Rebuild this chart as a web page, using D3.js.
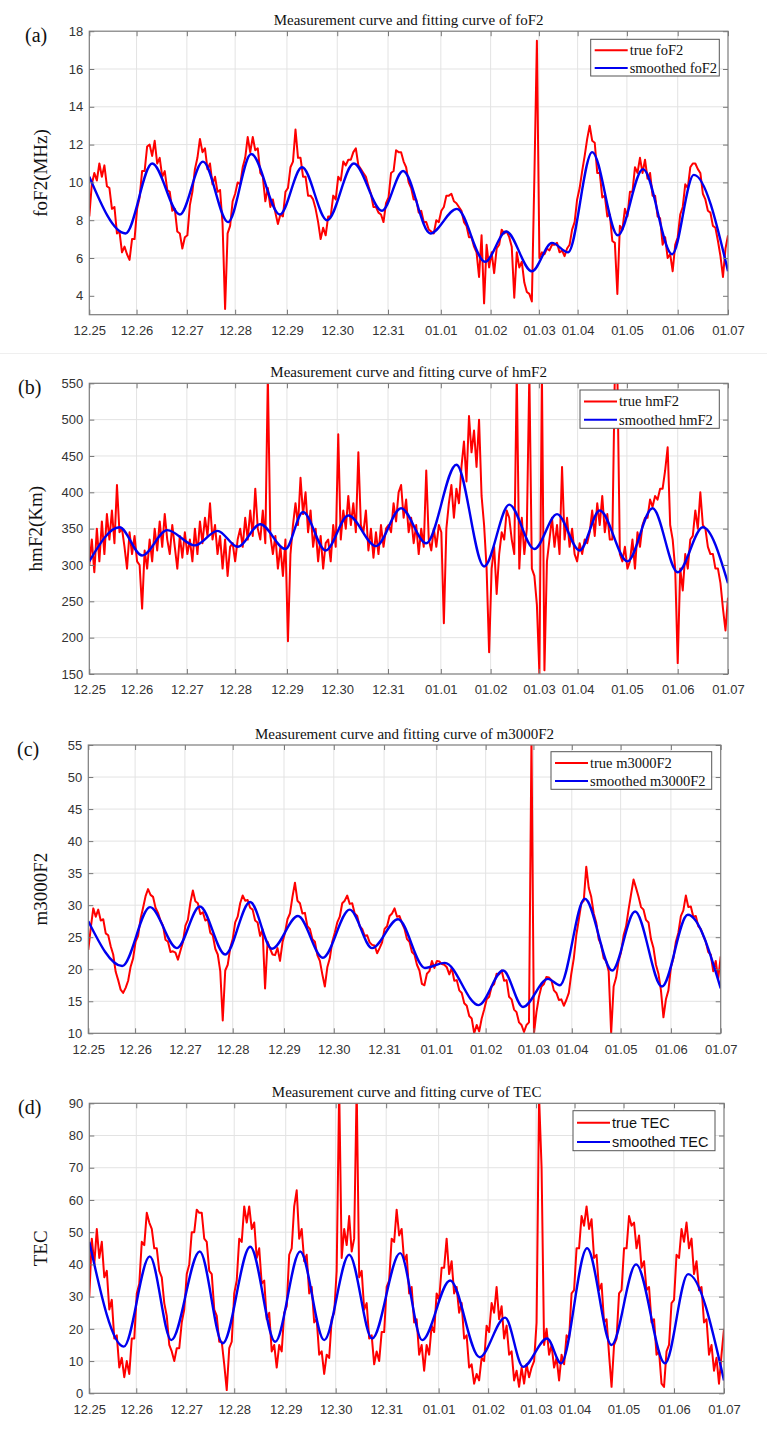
<!DOCTYPE html>
<html lang="en">
<head>
<meta charset="utf-8">
<title>Measurement and fitting curves</title>
<script src="https://cdnjs.cloudflare.com/ajax/libs/d3/7.8.5/d3.min.js"></script>
<style>
  body { margin: 0; background: #fff; }
  .tick text { font-family: "Liberation Sans", Arial, sans-serif; font-size: 13px; fill: #333; }
</style>
</head>
<body>
<div id="fig"></div>
<script>
// x axis: days from 12.25 00:00
var tickDays = [0, 0.94, 1.94, 2.9, 3.93, 4.93, 5.94, 6.99, 7.98, 8.94, 9.71, 10.69, 11.7, 12.7];
var tickLabels = ["12.25", "12.26", "12.27", "12.28", "12.29", "12.30", "12.31",
                  "01.01", "01.02", "01.03", "01.04", "01.05", "01.06", "01.07"];
var step = 0.05; // sampling of the measured series (days)

// (a) foF2
var foF2Ticks = [4, 6, 8, 10, 12, 14, 16, 18];
var foF2True = [
  8.2, 9.9, 10.5, 10.1, 11.0, 10.3, 10.9, 9.8, 9.7, 8.6, 8.7, 7.3, 7.4, 6.3, 6.6, 6.2, 5.9, 7.0, 7.0, 8.6,
  9.2, 10.6, 10.6, 11.9, 12.0, 11.4, 12.2, 11.0, 11.3, 10.3, 10.6, 9.6, 9.5, 8.5, 8.6, 7.4, 7.3, 6.5, 7.1, 7.2,
  8.8, 9.5, 10.7, 11.3, 12.3, 11.6, 11.8, 10.7, 11.0, 9.9, 10.3, 9.5, 9.6, 7.8, 3.3, 7.3, 7.7, 9.0, 9.4, 10.0,
  9.9, 10.8, 11.3, 12.4, 11.6, 12.4, 11.7, 11.8, 10.5, 10.3, 9.0, 9.7, 8.7, 9.1, 8.4, 7.8, 8.3, 8.2, 9.5, 9.7,
  10.8, 11.1, 12.8, 11.3, 11.3, 10.3, 10.3, 9.3, 9.3, 9.1, 8.6, 7.9, 7.0, 7.6, 7.2, 8.2, 8.2, 9.3, 9.1, 10.3,
  10.1, 11.1, 10.9, 11.2, 11.2, 11.6, 11.8, 10.9, 10.7, 10.5, 10.3, 9.8, 9.4, 8.7, 8.7, 8.4, 8.3, 7.9, 8.9, 9.2,
  10.5, 10.6, 11.7, 11.6, 11.6, 11.1, 10.8, 10.0, 9.7, 9.1, 9.1, 8.4, 8.5, 7.9, 7.9, 7.5, 7.4, 7.3, 8.0, 7.9,
  8.5, 8.7, 9.3, 9.3, 9.4, 9.0, 8.9, 8.7, 8.5, 7.9, 7.7, 7.1, 7.1, 6.6, 6.3, 5.0, 7.2, 3.6, 6.7, 5.5,
  6.3, 5.2, 6.5, 6.7, 7.5, 7.3, 7.4, 7.1, 6.6, 3.9, 6.3, 5.5, 5.8, 4.7, 4.2, 4.1, 3.7, 10.3, 17.5, 6.0,
  6.3, 6.2, 6.5, 6.4, 6.7, 6.7, 6.8, 6.3, 6.4, 6.1, 6.5, 6.7, 7.5, 7.9, 9.1, 9.7, 10.6, 11.4, 12.3, 13.0,
  12.2, 12.1, 10.5, 10.5, 9.2, 9.3, 8.2, 8.3, 6.9, 6.8, 4.1, 7.7, 7.5, 8.6, 8.2, 9.5, 9.5, 10.8, 10.5, 11.3,
  10.5, 11.2, 10.2, 10.5, 9.3, 9.3, 8.2, 8.1, 6.7, 7.1, 6.0, 6.2, 5.3, 6.7, 7.1, 8.3, 8.7, 9.9, 9.7, 10.8,
  11.0, 11.0, 10.7, 10.5, 9.4, 9.1, 8.5, 8.4, 7.7, 7.6, 6.9, 6.1, 5.0, 6.5, 7.2
];
var foF2Smooth = [[0, 10.3], [0.72, 7.3], [1.25, 11.0], [1.8, 8.3], [2.26, 11.1], [2.76, 7.9],
  [3.22, 11.5], [3.79, 8.3], [4.23, 10.8], [4.73, 8.0], [5.26, 11.0], [5.82, 8.5], [6.24, 10.6],
  [6.78, 7.3], [7.31, 8.6], [7.87, 5.8], [8.29, 7.4], [8.8, 5.3], [9.2, 6.8], [9.52, 6.3],
  [10.0, 11.6], [10.51, 7.2], [11.01, 10.7], [11.59, 6.2], [12.02, 10.4], [12.7, 5.3]];

// (b) hmF2
var hmF2Ticks = [150, 200, 250, 300, 350, 400, 450, 500, 550];
var hmF2True = [
  300, 335, 290, 350, 305, 360, 315, 370, 335, 375, 330, 410, 345, 350, 325, 295, 345, 315, 340, 305,
  300, 240, 320, 295, 335, 305, 350, 320, 360, 325, 370, 335, 315, 355, 325, 295, 340, 310, 345, 315,
  335, 305, 350, 315, 360, 330, 365, 340, 385, 335, 355, 315, 340, 295, 335, 285, 325, 330, 305, 335,
  350, 325, 365, 335, 375, 340, 405, 350, 335, 375, 330, 560, 340, 315, 340, 295, 325, 285, 335, 195,
  315, 355, 385, 355, 420, 370, 400, 345, 375, 325, 350, 305, 340, 295, 330, 335, 305, 355, 325, 480,
  335, 375, 350, 395, 355, 385, 345, 455, 355, 345, 375, 320, 350, 310, 345, 315, 355, 325, 350, 355,
  345, 385, 360, 400, 410, 365, 390, 345, 365, 330, 355, 315, 350, 325, 430, 335, 320, 350, 325, 355,
  345, 220, 350, 385, 410, 365, 405, 385, 435, 470, 415, 505, 455, 485, 435, 500, 395, 355, 295, 180,
  295, 325, 260, 315, 345, 335, 375, 365, 335, 315, 565, 295, 365, 315, 350, 565, 295, 285, 245, 150,
  565, 155, 305, 335, 365, 325, 355, 315, 435, 335, 365, 325, 350, 315, 305, 330, 315, 335, 330, 345,
  375, 340, 385, 355, 395, 345, 370, 335, 335, 565, 565, 315, 305, 325, 295, 305, 335, 295, 345, 325,
  355, 365, 365, 390, 380, 395, 390, 405, 405, 430, 462, 355, 335, 295, 165, 295, 265, 315, 295, 335,
  340, 375, 350, 400, 355, 350, 325, 315, 315, 295, 295, 275, 240, 210, 255
];
var hmF2Smooth = [[0, 305], [0.6, 352], [1.05, 313], [1.55, 348], [2.1, 327], [2.55, 347], [2.95, 325],
  [3.4, 356], [3.9, 322], [4.25, 373], [4.7, 320], [5.15, 368], [5.7, 326], [6.2, 378], [6.7, 330],
  [7.3, 438], [7.85, 298], [8.35, 383], [8.85, 322], [9.3, 370], [9.75, 320], [10.15, 375],
  [10.7, 305], [11.2, 378], [11.7, 290], [12.2, 352], [12.7, 275]];

// (c) m3000F2
var m3000Ticks = [10, 15, 20, 25, 30, 35, 40, 45, 50, 55];
var m3000True = [
  23, 26.5, 29.5, 28.2, 29.3, 27.6, 27.8, 25.6, 25.3, 23.6, 22.3, 19.6, 18.3, 16.8, 16.3, 17.1, 18.2, 20.4, 21.7, 24.3,
  25.2, 27.9, 29.6, 31.4, 32.5, 31.6, 31.3, 29.6, 28.8, 27.6, 26.8, 24.6, 24.3, 22.7, 22.8, 22.6, 21.5, 22.9, 24.2, 26.8,
  27.7, 30.4, 32.3, 30.6, 30.3, 28.6, 28.9, 27.6, 27.8, 25.7, 25.3, 23.2, 22.3, 19.7, 12, 19.8, 20.7, 23.3, 24.7, 27.3,
  28.2, 30.3, 31.5, 30.7, 30.8, 29.6, 29.3, 27.6, 27.3, 25.2, 26.2, 17, 24.3, 23.2, 22.3, 22.2, 23.3, 21.3, 24.2, 25.7,
  27.8, 28.7, 31.3, 33.5, 30.7, 30.3, 28.7, 28.8, 26.7, 26.3, 24.7, 24.3, 22.2, 21.3, 19.2, 17.3, 20.3, 21.7, 24.3, 25.7,
  27.3, 28.2, 30.3, 30.7, 31.5, 30.2, 30.3, 28.7, 28.3, 26.7, 26.3, 25.2, 25.3, 24.2, 23.8, 23.7, 22.5, 23.3, 24.2, 26.3,
  26.7, 28.3, 28.7, 29.5, 28.2, 28.3, 27.2, 26.3, 24.7, 24.3, 22.7, 22.3, 20.7, 19.8, 17.7, 17.5, 19.3, 19.7, 21.3, 20.2,
  21.3, 21.2, 20.8, 20.7, 20.3, 19.2, 20.2, 18.2, 18.3, 16.7, 16.3, 14.7, 14.3, 12.7, 12.3, 10, 11.3, 10.3, 12.3, 13.7,
  15.3, 15.7, 17.3, 17.7, 19.3, 19.2, 19.8, 18.2, 18.3, 15.7, 15.3, 13.7, 13.3, 11.7, 11.3, 10.2, 11.3, 11.7, 56, 10,
  13.3, 15.7, 17.3, 17.7, 18.8, 18.7, 18.3, 16.7, 16.3, 15.2, 15.3, 14.3, 15.2, 16.3, 19.3, 21.7, 25.3, 27.7, 30.3, 30.7,
  36, 32.7, 31.3, 28.7, 27.3, 24.7, 23.8, 21.7, 21.3, 19.7, 10, 17.3, 18.7, 21.3, 22.7, 25.3, 26.7, 29.3, 31.7, 34,
  32.7, 31.3, 29.7, 29.3, 27.7, 27.3, 24.7, 23.3, 20.7, 19.3, 16.7, 12.5, 15.3, 16.7, 20.3, 21.7, 24.3, 25.7, 28.3, 29.2,
  31.5, 29.7, 29.8, 28.2, 28.3, 26.7, 26.3, 25.2, 24.3, 22.7, 22.3, 19.7, 21.3, 18.5, 22
];
var m3000Smooth = [[0, 27.5], [0.68, 20.5], [1.24, 29.7], [1.78, 23.3], [2.24, 29.8], [2.75, 22.3],
  [3.25, 30.5], [3.69, 23.2], [4.21, 28.3], [4.71, 21.8], [5.25, 29.3], [5.7, 23.3], [6.22, 27.8],
  [6.76, 20.2], [7.16, 21.0], [7.84, 14.4], [8.33, 19.8], [8.73, 14.1], [9.23, 18.5], [9.47, 17.5],
  [9.97, 31.0], [10.52, 19.8], [10.98, 29.0], [11.52, 17.3], [12.04, 28.5], [12.7, 17.0]];

// (d) TEC
var tecTicks = [0, 10, 20, 30, 40, 50, 60, 70, 80, 90];
var tecTrue = [
  30, 48, 40, 51, 42, 47, 36, 38, 26, 29, 17, 18, 8, 11, 5, 10, 6, 17, 17, 31,
  34, 47, 46, 56, 53, 51, 45, 45, 38, 36, 28, 24, 15, 13, 10, 14, 14, 22, 26, 37,
  40, 50, 50, 57, 56, 56, 48, 47, 38, 37, 26, 24, 16, 16, 9, 1, 14, 16, 31, 35,
  48, 47, 58, 53, 58, 51, 53, 42, 45, 34, 35, 23, 25, 13, 15, 8, 15, 13, 25, 27,
  43, 45, 58, 63, 48, 51, 41, 43, 31, 33, 22, 23, 12, 13, 6, 12, 11, 23, 25, 38,
  95, 42, 51, 46, 55, 44, 48, 95, 36, 38, 26, 28, 17, 18, 9, 13, 10, 19, 19, 33,
  35, 48, 47, 57, 49, 51, 41, 43, 31, 33, 22, 23, 12, 15, 7, 15, 12, 21, 19, 31,
  29, 39, 39, 48, 37, 41, 31, 33, 25, 28, 17, 18, 8, 9, 3, 6, 4, 11, 10, 21,
  19, 28, 25, 33, 23, 27, 17, 21, 12, 13, 4, 7, 2, 8, 3, 9, 5, 8, 10, 22,
  92, 70, 15, 20, 12, 15, 8, 11, 4, 12, 9, 18, 17, 31, 32, 45, 45, 55, 52, 58,
  51, 54, 42, 43, 32, 34, 22, 23, 12, 2, 15, 17, 31, 32, 45, 45, 55, 52, 53, 45,
  49, 39, 41, 32, 33, 22, 23, 12, 13, 3, 2, 13, 15, 28, 29, 43, 42, 51, 47, 53,
  45, 48, 37, 41, 32, 33, 22, 23, 12, 15, 7, 11, 3, 12, 20
];
var tecSmooth = [[0, 47], [0.69, 14.5], [1.21, 42.5], [1.64, 16.5], [2.21, 44], [2.67, 15.5],
  [3.22, 45.5], [3.72, 16], [4.22, 44], [4.7, 16.5], [5.2, 43], [5.66, 17], [6.22, 43.5],
  [6.66, 16.5], [7.22, 35], [7.81, 11.2], [8.32, 23.5], [8.68, 8.2], [9.16, 17], [9.44, 9.3],
  [9.96, 45], [10.45, 15], [10.94, 40], [11.52, 9.3], [11.98, 37], [12.7, 4]];

var serif = '"Liberation Serif", "Times New Roman", serif';
var sans = '"Liberation Sans", Arial, sans-serif';

var panels = [
  {tag: "(a)", tagX: 25, title: "foF2", ylabel: "foF2(MHz)", ylabelX: 40,
   left: 89.3, right: 728, top: 31.2, bottom: 314.7, yDomain: [3, 18], yTicks: foF2Ticks,
   trueVals: foF2True, smooth: foF2Smooth, legend: [590.7, 39.3, 128.6, 36.7], legendFont: serif},
  {tag: "(b)", tagX: 18, title: "hmF2", ylabel: "hmF2(Km)", ylabelX: 35,
   left: 89.3, right: 728, top: 383.3, bottom: 674, yDomain: [150, 550], yTicks: hmF2Ticks,
   trueVals: hmF2True, smooth: hmF2Smooth, legend: [580, 390, 139.3, 38.3], legendFont: serif},
  {tag: "(c)", tagX: 17, title: "m3000F2", ylabel: "m3000F2", ylabelX: 40,
   left: 88.3, right: 720.7, top: 745, bottom: 1033.3, yDomain: [10, 55], yTicks: m3000Ticks,
   trueVals: m3000True, smooth: m3000Smooth, legend: [551, 751.7, 160.7, 37.6], legendFont: serif},
  {tag: "(d)", tagX: 18, title: "TEC", ylabel: "TEC", ylabelX: 40,
   left: 89.3, right: 724, top: 1103.3, bottom: 1393.3, yDomain: [0, 90], yTicks: tecTicks,
   trueVals: tecTrue, smooth: tecSmooth, legend: [573, 1110.7, 142, 40], legendFont: sans}
];

var svg = d3.select("#fig").append("svg")
  .attr("width", 767)
  .attr("height", 1432)
  .style("display", "block");

// faint strip edge under the first figure
svg.append("line").attr("x1", 0).attr("x2", 767).attr("y1", 353.5).attr("y2", 353.5)
  .attr("stroke", "#efefef");

panels.forEach(function(p, k) {
  var x = d3.scaleLinear().domain([0, 12.7]).range([p.left, p.right]);
  var y = d3.scaleLinear().domain(p.yDomain).range([p.bottom, p.top]);
  var g = svg.append("g");

  // grid
  g.append("g").selectAll("line").data(tickDays.slice(1, -1)).enter().append("line")
    .attr("x1", d => x(d)).attr("x2", d => x(d))
    .attr("y1", p.top).attr("y2", p.bottom)
    .attr("stroke", "#e3e3e3");
  g.append("g").selectAll("line").data(p.yTicks.slice(1, -1)).enter().append("line")
    .attr("y1", d => y(d)).attr("y2", d => y(d))
    .attr("x1", p.left).attr("x2", p.right)
    .attr("stroke", "#e3e3e3");

  // clip
  svg.append("clipPath").attr("id", "clip" + k).append("rect")
    .attr("x", p.left).attr("y", p.top)
    .attr("width", p.right - p.left).attr("height", p.bottom - p.top);

  var lineTrue = d3.line()
    .x((d, i) => x(i * step))
    .y(d => y(d));
  var lineSmooth = d3.line()
    .x(d => x(d[0]))
    .y(d => y(d[1]))
    .curve(d3.curveMonotoneX);

  g.append("path").datum(p.trueVals)
    .attr("clip-path", "url(#clip" + k + ")")
    .attr("d", lineTrue)
    .attr("fill", "none").attr("stroke", "#ff0000")
    .attr("stroke-width", 2).attr("stroke-linejoin", "round");
  g.append("path").datum(p.smooth)
    .attr("clip-path", "url(#clip" + k + ")")
    .attr("d", lineSmooth)
    .attr("fill", "none").attr("stroke", "#0000f0")
    .attr("stroke-width", 2.4);

  // axes, ticks pointing inwards on all four sides
  var xb = g.append("g").attr("transform", "translate(0," + p.bottom + ")")
    .call(d3.axisBottom(x).tickValues(tickDays).tickFormat((d, i) => tickLabels[i])
      .tickSizeInner(-5).tickSizeOuter(0).tickPadding(11));
  var xt = g.append("g").attr("transform", "translate(0," + p.top + ")")
    .call(d3.axisTop(x).tickValues(tickDays).tickFormat("").tickSizeInner(-5).tickSizeOuter(0));
  var yl = g.append("g").attr("transform", "translate(" + p.left + ",0)")
    .call(d3.axisLeft(y).tickValues(p.yTicks).tickSizeInner(-5).tickSizeOuter(0).tickPadding(6));
  var yr = g.append("g").attr("transform", "translate(" + p.right + ",0)")
    .call(d3.axisRight(y).tickValues(p.yTicks).tickFormat("").tickSizeInner(-5).tickSizeOuter(0));
  [xb, xt, yl, yr].forEach(function(a) {
    a.select(".domain").remove();
    a.selectAll(".tick line").attr("stroke", "#777");
  });

  // box
  g.append("rect")
    .attr("x", p.left).attr("y", p.top)
    .attr("width", p.right - p.left).attr("height", p.bottom - p.top)
    .attr("fill", "none").attr("stroke", "#7c7c7c").attr("stroke-width", 1.2);

  // title
  g.append("text")
    .attr("x", (p.left + p.right) / 2).attr("y", p.top - 6)
    .attr("text-anchor", "middle")
    .style("font-family", serif).style("font-size", "15px").attr("fill", "#111")
    .text("Measurement curve and fitting curve of " + p.title);

  // panel tag
  g.append("text")
    .attr("x", p.tagX).attr("y", p.top + 11)
    .style("font-family", serif).style("font-size", "20px").attr("fill", "#111")
    .text(p.tag);

  // y label
  g.append("text")
    .attr("transform", "translate(" + p.ylabelX + "," + (p.top + p.bottom) / 2 + ") rotate(-90)")
    .attr("text-anchor", "middle")
    .attr("dominant-baseline", "central")
    .style("font-family", serif).style("font-size", "19px").attr("fill", "#111")
    .text(p.ylabel);

  // legend
  var L = p.legend;
  var lg = g.append("g");
  lg.append("rect").attr("x", L[0]).attr("y", L[1]).attr("width", L[2]).attr("height", L[3])
    .attr("fill", "#fff").attr("stroke", "#555").attr("stroke-width", 1);
  var rows = [{label: "true " + p.title, color: "#ff0000", dy: 0.3},
              {label: "smoothed " + p.title, color: "#0000f0", dy: 0.78}];
  rows.forEach(function(r) {
    var yy = L[1] + L[3] * r.dy;
    lg.append("line").attr("x1", L[0] + 4).attr("x2", L[0] + 37)
      .attr("y1", yy).attr("y2", yy)
      .attr("stroke", r.color).attr("stroke-width", 2);
    lg.append("text").attr("x", L[0] + 39).attr("y", yy)
      .attr("dominant-baseline", "central")
      .style("font-family", p.legendFont).style("font-size", "14.5px").attr("fill", "#111")
      .text(r.label);
  });
});
</script>
</body>
</html>
